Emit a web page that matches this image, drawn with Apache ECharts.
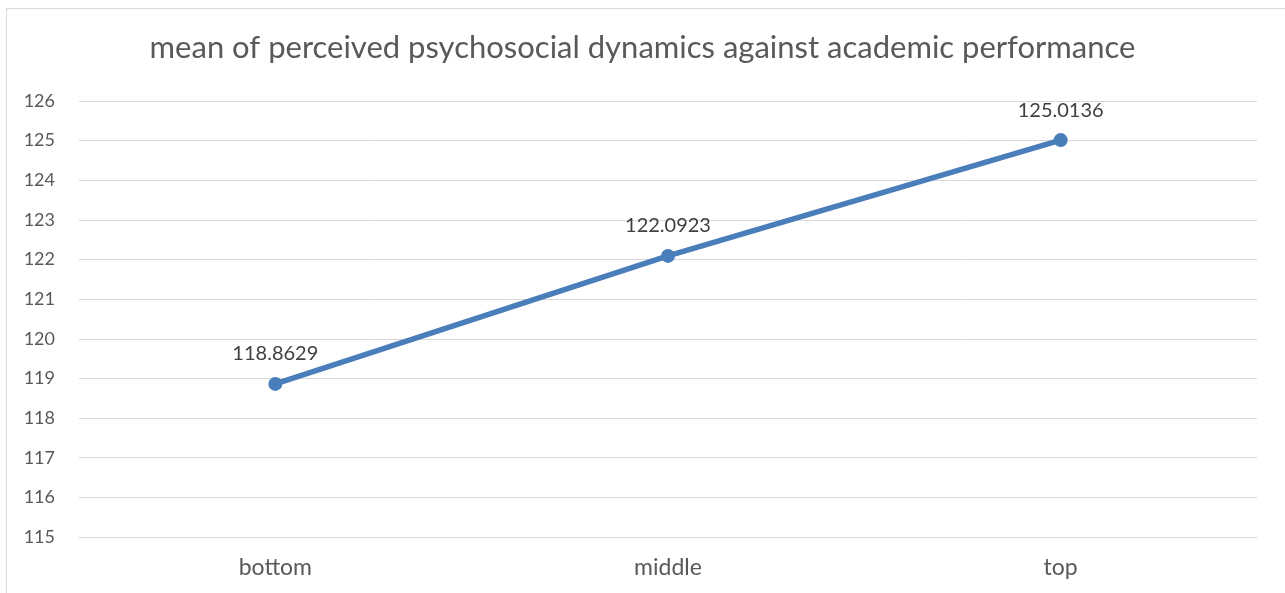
<!DOCTYPE html>
<html><head><meta charset="utf-8">
<script src="https://cdn.jsdelivr.net/npm/echarts@6/dist/echarts.min.js"></script>
<style>
html,body{margin:0;padding:0;background:#fff;overflow:hidden;}
#frame{position:absolute;left:6px;top:8px;width:1300px;height:600px;border:1px solid #d9d9d9;box-sizing:border-box;}
#c{position:absolute;left:0;top:0;width:1285px;height:593px;}
</style></head>
<body>
<div id="frame"></div>
<div id="c"></div>
<script>
const title = 'mean of perceived psychosocial dynamics against academic performance';
const categories = ['bottom', 'middle', 'top'];
const values = [118.8629, 122.0923, 125.0136];
const yMin = 115, yMax = 126, yStep = 1;

const chart = echarts.init(document.getElementById('c'), null, {renderer: 'canvas'});
chart.setOption({
  backgroundColor: 'transparent',
  animation: false,
  title: {
    text: title, left: 'center', top: 27,
    textStyle: {fontFamily: 'Lato', fontSize: 31, fontWeight: 'normal', color: '#595959'}
  },
  grid: {left: 79, right: 28, top: 101, bottom: 56, containLabel: false},
  xAxis: {
    type: 'category', data: categories, boundaryGap: true,
    axisLine: {show: true, lineStyle: {color: '#d9d9d9', width: 1}},
    axisTick: {show: false},
    axisLabel: {color: '#595959', fontFamily: 'Lato', fontSize: 23, margin: 19}
  },
  yAxis: {
    type: 'value', min: yMin, max: yMax, interval: yStep,
    axisLine: {show: false}, axisTick: {show: false},
    splitLine: {lineStyle: {color: '#d9d9d9', width: 1}},
    axisLabel: {color: '#595959', fontFamily: 'Lato', fontSize: 18, margin: 24}
  },
  series: [{
    type: 'line', data: values,
    lineStyle: {color: '#4a7ebb', width: 5.5},
    itemStyle: {color: '#4a7ebb'},
    symbol: 'circle', symbolSize: 14,
    label: {show: true, position: 'top', distance: 13, color: '#404040', fontFamily: 'Lato', fontSize: 20,
      formatter: p => String(p.value)}
  }]
});
</script>
</body></html>
